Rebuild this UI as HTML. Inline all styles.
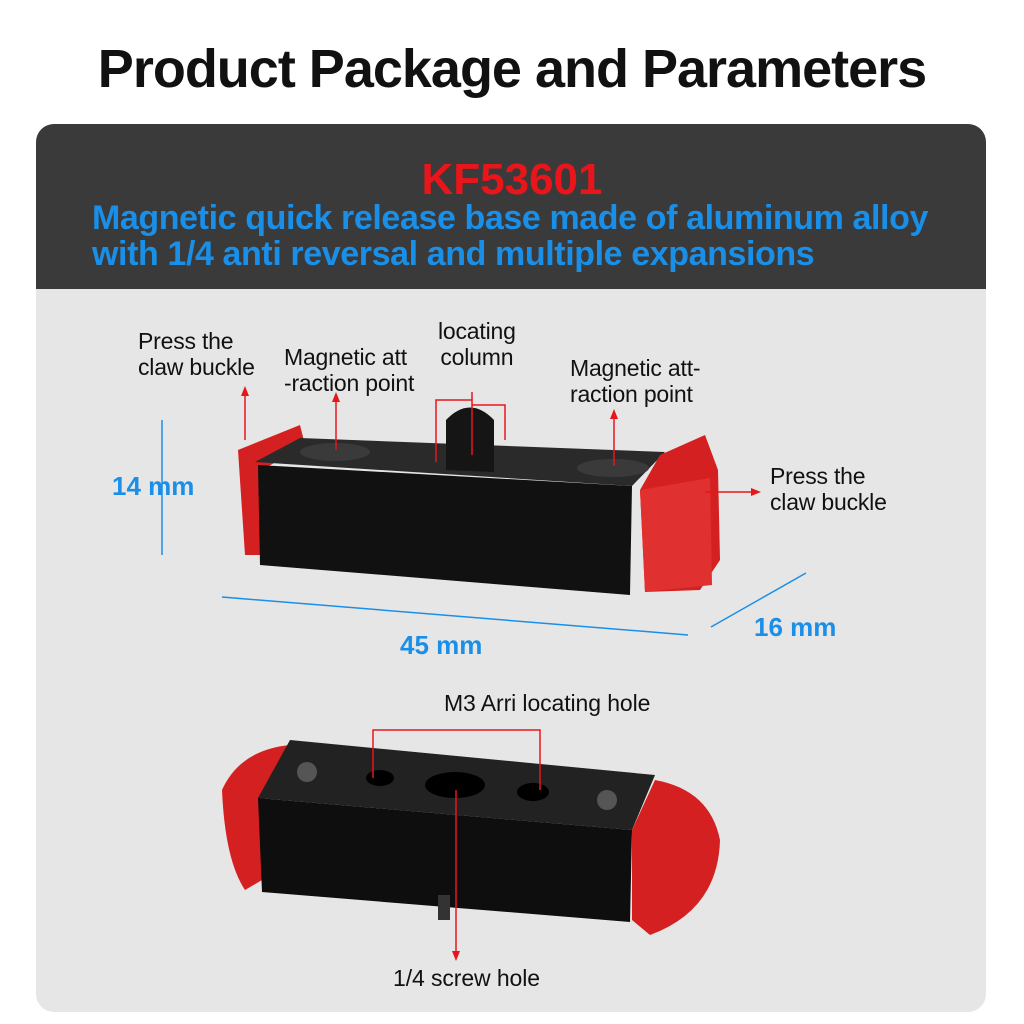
<!DOCTYPE html>
<html><head><meta charset="utf-8"><style>
html,body{margin:0;padding:0;background:#fff;}
body{width:1024px;height:1024px;position:relative;overflow:hidden;font-family:"Liberation Sans",sans-serif;}
.t{position:absolute;white-space:nowrap;}
</style></head><body>
<div class="t" style="left:0;width:1024px;top:38px;text-align:center;font-size:54px;font-weight:bold;color:#111;letter-spacing:-1px;">Product Package and Parameters</div>
<div style="position:absolute;left:36px;top:124px;width:950px;height:888px;border-radius:18px;background:#e6e6e6;overflow:hidden;">
  <div style="position:absolute;left:0;top:0;width:950px;height:165px;background:#3a3a3a;"></div>
</div>
<div class="t" style="left:0;width:1024px;top:155px;text-align:center;font-size:44px;font-weight:bold;color:#e8161b;">KF53601</div>
<div class="t" style="left:92px;top:200px;font-size:34px;font-weight:bold;color:#1a8fe8;line-height:36px;letter-spacing:-0.4px;">Magnetic quick release base made of aluminum alloy<br>with 1/4 anti reversal and multiple expansions</div>

<svg style="position:absolute;left:0;top:0" width="1024" height="1024">
 <polygon points="238,450 300,425 305,445 262,470 260,555 245,555" fill="#d42020"/>
 <polygon points="255,462 300,438 665,452 632,486" fill="#2a2a2a"/>
 <polygon points="258,465 632,486 630,595 260,565" fill="#111"/>
 <ellipse cx="335" cy="452" rx="35" ry="9" fill="#3a3a3a"/>
 <ellipse cx="613" cy="468" rx="36" ry="9" fill="#3a3a3a"/>
 <path d="M446,470 L446,420 Q470,395 494,420 L494,472 Z" fill="#151515"/>
 <polygon points="660,455 705,435 718,470 720,560 700,590 645,592 640,490" fill="#d42020"/>
 <polygon points="640,490 710,478 712,585 645,592" fill="#e03030"/>
 <path d="M222,790 Q240,750 290,745 L300,760 265,790 262,880 245,890 Q225,860 222,790Z" fill="#d42020"/>
 <polygon points="290,740 655,775 632,830 258,798" fill="#222"/>
 <polygon points="258,798 632,830 630,922 262,892" fill="#0e0e0e"/>
 <circle cx="307" cy="772" r="10" fill="#555"/>
 <circle cx="607" cy="800" r="10" fill="#555"/>
 <ellipse cx="380" cy="778" rx="14" ry="8" fill="#000"/>
 <ellipse cx="455" cy="785" rx="30" ry="13" fill="#000"/>
 <ellipse cx="533" cy="792" rx="16" ry="9" fill="#000"/>
 <path d="M632,830 L655,780 Q710,790 720,840 Q718,910 650,935 L632,920Z" fill="#d42020"/>
 <rect x="438" y="895" width="12" height="25" fill="#333"/>
 <g stroke="#1a8fe8" stroke-width="1.5">
  <line x1="162" y1="420" x2="162" y2="555"/>
  <line x1="222" y1="597" x2="688" y2="635"/>
  <line x1="711" y1="627" x2="806" y2="573"/>
 </g>
 <g stroke="#e8161b" stroke-width="1.5" fill="none">
  <line x1="245" y1="440" x2="245" y2="392"/>
  <line x1="336" y1="450" x2="336" y2="398"/>
  <polyline points="436,462 436,400 472,400 472,455"/>
  <polyline points="472,400 472,392"/>
  <polyline points="472,405 505,405 505,440"/>
  <line x1="614" y1="466" x2="614" y2="415"/>
  <line x1="705" y1="492" x2="755" y2="492"/>
  <polyline points="373,778 373,730 540,730 540,790"/>
  <line x1="456" y1="790" x2="456" y2="955"/>
 </g>
 <g fill="#e8161b">
  <polygon points="245,386 241,396 249,396"/>
  <polygon points="336,392 332,402 340,402"/>
  <polygon points="614,409 610,419 618,419"/>
  <polygon points="761,492 751,488 751,496"/>
  <polygon points="456,961 452,951 460,951"/>
 </g>
</svg>
<div class="t" style="left:138px;top:328px;font-size:23px;line-height:26px;color:#111;letter-spacing:-0.2px;">Press the<br>claw buckle</div>
<div class="t" style="left:284px;top:344px;font-size:23px;line-height:26px;color:#111;letter-spacing:-0.2px;">Magnetic att<br>-raction point</div>
<div class="t" style="left:438px;top:318px;font-size:23px;line-height:26px;color:#111;text-align:center;letter-spacing:-0.2px;">locating<br>column</div>
<div class="t" style="left:570px;top:355px;font-size:23px;line-height:26px;color:#111;letter-spacing:-0.2px;">Magnetic att-<br>raction point</div>
<div class="t" style="left:770px;top:463px;font-size:23px;line-height:26px;color:#111;letter-spacing:-0.2px;">Press the<br>claw buckle</div>
<div class="t" style="left:112px;top:471px;font-size:26px;font-weight:bold;color:#1a8fe8;">14 mm</div>
<div class="t" style="left:400px;top:630px;font-size:26px;font-weight:bold;color:#1a8fe8;">45 mm</div>
<div class="t" style="left:754px;top:612px;font-size:26px;font-weight:bold;color:#1a8fe8;">16 mm</div>
<div class="t" style="left:444px;top:690px;font-size:23px;color:#111;letter-spacing:-0.1px;">M3 Arri locating hole</div>
<div class="t" style="left:393px;top:965px;font-size:23px;color:#111;letter-spacing:-0.1px;">1/4 screw hole</div>
</body></html>
